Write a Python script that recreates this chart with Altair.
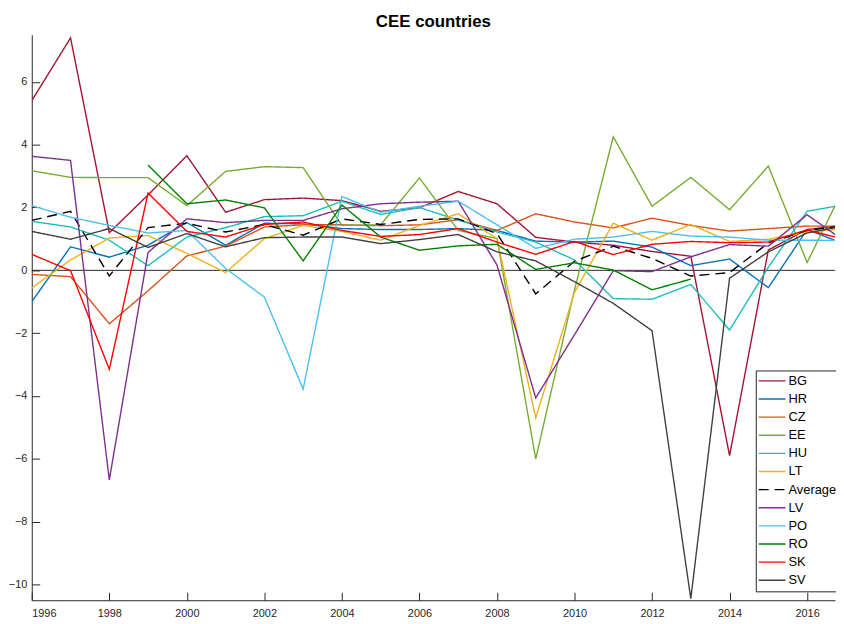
import altair as alt
import pandas as pd

years = list(range(1996, 2018))
series_order = ["BG", "HR", "CZ", "EE", "HU", "LT", "Average", "LV", "PO", "RO", "SK", "SV"]

BG = [5.4, 7.4, 1.2, 2.4, 3.65, 1.85, 2.25, 2.3, 2.22, 1.88, 1.99, 2.51, 2.12, 1.05, 0.9, 0.8, 0.6, 0.45, -5.9, 0.65, 1.3, 1.44]
HR = [-1.0, 0.75, 0.42, 0.8, 1.52, 0.8, 1.5, 1.48, 1.33, 1.3, 1.3, 1.33, 1.27, 0.93, 0.9, 0.93, 0.74, 0.15, 0.36, -0.55, 1.3, 0.82]
CZ = [-0.13, -0.2, -1.7, -0.65, 0.46, 0.77, 1.38, 1.45, 1.45, 1.42, 1.45, 1.61, 1.27, 1.8, 1.54, 1.35, 1.66, 1.43, 1.25, 1.33, 1.41, 1.4]
EE = [3.17, 2.96, 2.95, 2.95, 2.06, 3.15, 3.3, 3.27, 1.43, 1.45, 2.94, 1.27, 1.01, -6.0, -0.62, 4.25, 2.04, 2.96, 1.93, 3.32, 0.25, 2.75]
HU = [1.56, 1.38, 0.96, 0.15, 1.06, 1.36, 1.71, 1.74, 2.2, 1.78, 2.0, 1.6, 1.22, 0.9, 0.33, -0.9, -0.92, -0.45, -1.9, 0.1, 1.88, 2.1]
LT = [-0.56, 0.33, 1.03, 1.11, 0.54, -0.07, 1.01, 1.43, 1.24, 0.96, 1.43, 1.8, 1.01, -4.7, -0.7, 1.5, 0.96, 1.46, 0.92, 0.99, 1.22, 1.33]
AVG = [1.59, 1.88, -0.18, 1.36, 1.5, 1.22, 1.46, 1.12, 1.64, 1.46, 1.62, 1.64, 1.17, -0.75, 0.29, 0.77, 0.38, -0.18, -0.07, 0.87, 1.27, 1.43]
LV = [3.63, 3.5, -6.67, 0.57, 1.64, 1.52, 1.59, 1.59, 1.96, 2.12, 2.17, 2.2, 0.17, -4.06, -2.05, -0.01, -0.04, 0.43, 0.82, 0.77, 1.77, 0.9]
PO = [2.06, 1.69, 1.43, 1.19, 1.27, 0.06, -0.85, -3.78, 2.35, 1.85, 2.04, 2.2, 1.45, 0.7, 0.99, 1.06, 1.24, 1.09, 1.06, 0.96, 0.96, 0.95]
RO = [None, None, None, 3.35, 2.12, 2.24, 1.99, 0.3, 2.08, 1.06, 0.64, 0.78, 0.83, 0.03, 0.24, 0.01, -0.62, -0.28, None, None, None, None]
SK = [0.51, -0.01, -3.15, 2.46, 1.24, 1.06, 1.46, 1.54, 1.27, 1.08, 1.14, 1.33, 0.9, 0.51, 0.92, 0.5, 0.83, 0.92, 0.88, 0.9, 1.29, 0.97]
SV = [1.24, 0.99, 1.33, 0.73, 1.17, 0.75, 1.04, 1.06, 1.06, 0.85, 0.98, 1.14, 0.59, 0.3, -0.36, -1.05, -1.92, -10.45, -0.25, 0.59, 1.19, 1.42]

x_ticks = list(range(1996, 2017, 2))
y_ticks = list(range(-10, 7, 2))

colors = ["#A2142F", "#0072BD", "#D95319", "#77AC30", "#1DBDBD", "#EDB120",
          "#000000", "#7E2F8E", "#4DBEEE", "#008000", "#FF0000", "#404040"]
dashes = [[1, 0]] * 6 + [[10, 6]] + [[1, 0]] * 5
widths = [1.4] * 6 + [3.0] + [1.4] * 5

all_series = [BG, HR, CZ, EE, HU, LT, AVG, LV, PO, RO, SK, SV]
rows = []
for name, vals in zip(series_order, all_series):
    for yr, v in zip(years, vals):
        if v is not None:
            rows.append({"year": yr, "value": v, "series": name})
df = pd.DataFrame(rows)

FONT = "Liberation Sans"

legend = alt.Legend(
    title=None, orient="none", legendX=731, legendY=339,
    symbolType="M-1.67,0L4.33,0", symbolSize=81, labelOffset=16,
    labelFontSize=13, labelFont=FONT, labelColor="#000000",
    rowPadding=4.3, padding=4, fillColor="white", strokeColor="#262626",
)

lines = alt.Chart(df).mark_line(clip=True, strokeCap="butt").encode(
    x=alt.X("year:Q",
            scale=alt.Scale(domain=[1996, 2016.72], nice=False, zero=False),
            axis=alt.Axis(values=x_ticks, format="d", title=None, labelPadding=15)),
    y=alt.Y("value:Q",
            scale=alt.Scale(domain=[-10.5, 7.5], nice=False, zero=False),
            axis=alt.Axis(values=y_ticks, title=None, labelPadding=13)),
    color=alt.Color("series:N", scale=alt.Scale(domain=series_order, range=colors), legend=legend),
    strokeDash=alt.StrokeDash("series:N", scale=alt.Scale(domain=series_order, range=dashes), legend=legend),
    strokeWidth=alt.StrokeWidth("series:N", scale=alt.Scale(domain=series_order, range=widths), legend=legend),
)

zero = alt.Chart(pd.DataFrame({"value": [0]})).mark_rule(color="#262626", strokeWidth=1).encode(
    y=alt.Y("value:Q")
)

chart = alt.layer(zero, lines).properties(
    width=811, height=571,
    title=alt.TitleParams("CEE countries", fontSize=17, fontWeight="bold", font=FONT,
                          color="#000000", anchor="middle", offset=4),
    autosize=alt.AutoSizeParams(type="none"),
    padding={"left": 24, "top": 24, "right": 1, "bottom": 20},
).configure_view(stroke=None).configure_axis(
    labelFont=FONT, labelFontSize=11, labelColor="#262626",
    domainColor="#262626", tickColor="#262626", domainWidth=1, tickWidth=1,
    tickSize={"expr": "-8"}, grid=False,
)

chart.save("out.html", embed_options={"renderer": "svg", "actions": False})
